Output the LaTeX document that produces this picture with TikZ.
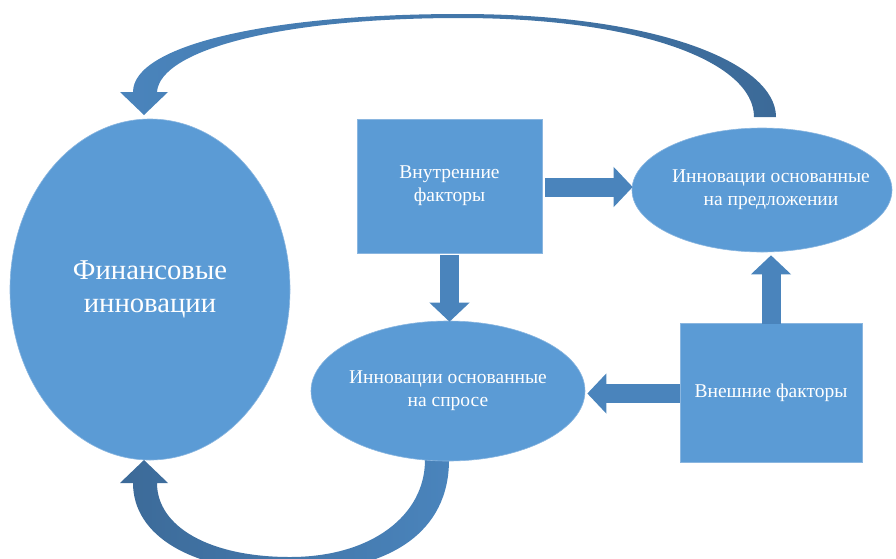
\documentclass[tikz,border=0pt]{standalone}
\usepackage{fontspec}
\setmainfont{Liberation Serif}
\usetikzlibrary{shapes.geometric,arrows.meta,calc}
\definecolor{shapeblue}{HTML}{5B9BD5}
\definecolor{edgeblue}{HTML}{8AB6E0}
\definecolor{arrowblue}{HTML}{4A84BC}
\definecolor{darkarrow}{HTML}{3C6A98}
\tikzset{
  caption/.style={text=white, align=center, font=\fontsize{19.5}{23}\selectfont, inner sep=0pt},
  bigcaption/.style={caption, font=\fontsize{28.7}{33}\selectfont},
  blob/.style={ellipse, fill=shapeblue, draw=edgeblue, line width=0.6pt, inner sep=0pt},
  panel/.style={rectangle, fill=shapeblue, draw=edgeblue, line width=0.6pt, inner sep=0pt,
    text=white, align=center, font=\fontsize{19.5}{23}\selectfont},
  blockarrow/.style={draw=arrowblue, line width=19pt,
    -{Triangle[length=19pt,width=39pt]}}
}
\begin{document}
\begin{tikzpicture}[x=1pt,y=-1pt]
\useasboundingbox (0,0) rectangle (896,558);
\clip (0,0) rectangle (896,558);

% curved feedback arrows
\shade[left color=arrowblue, right color=darkarrow]
  (776,117) .. controls (776,64) and (660,14) .. (460,14)
  .. controls (270,14) and (133,45) .. (133,92)
  -- (120,92) -- (144,115) -- (168,92) -- (157,92)
  .. controls (160,50) and (280,18) .. (460,18)
  .. controls (640,18) and (754,62) .. (754,117) -- cycle;
\shade[left color=darkarrow, right color=arrowblue]
  (449,460) .. controls (449,532) and (390,572) .. (290,572)
  .. controls (190,572) and (133,535) .. (133,483)
  -- (120,483) -- (144,460) -- (168,483) -- (157,483)
  .. controls (157,527) and (210,557) .. (290,557)
  .. controls (372,557) and (425,515) .. (425,460) -- cycle;

% main shapes
\node[blob, minimum width=280pt, minimum height=341pt,
      label={[bigcaption]center:Финансовые\\инновации}] (fin) at (150,289.5) {};
\node[panel, minimum width=185pt, minimum height=134pt] (inner) at (449.5,186) {Внутренние\\факторы};
\node[blob, minimum width=260pt, minimum height=124pt,
      label={[caption, xshift=9pt]center:Инновации основанные\\на предложении}] (supply) at (762,190) {};
\node[blob, minimum width=274pt, minimum height=140pt,
      label={[caption]center:Инновации основанные\\на спросе}] (demand) at (448,391) {};
\node[panel, minimum width=182pt, minimum height=139pt] (outer) at (771,392.5) {Внешние факторы};

% block arrows between the shapes
\draw[blockarrow] ($(inner.east)+(3,1)$) -- ($(inner.east -| supply.west)+(1,1)$);
\draw[blockarrow] ($(inner.south)+(0,2)$) -- ($(inner.south |- demand.north)+(0,1)$);
\draw[blockarrow] ($(outer.north)+(0,1)$) -- ($(outer.north |- supply.south)+(0,3)$);
\draw[blockarrow] ($(outer.west)+(0,1)$) -- ($(outer.west -| demand.east)+(2,1)$);
\end{tikzpicture}
\end{document}
